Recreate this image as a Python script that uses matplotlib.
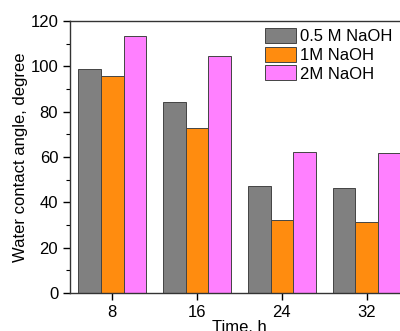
import matplotlib
matplotlib.use("Agg")
import matplotlib.pyplot as plt
import numpy as np
from matplotlib.ticker import MultipleLocator

plt.rcParams['font.family'] = ['Liberation Sans', 'DejaVu Sans']

times = [8, 16, 24, 32]
naoh_05 = [98.7, 84.3, 47.3, 46.2]
naoh_1 = [95.5, 72.7, 32.2, 31.2]
naoh_2 = [113.5, 104.5, 62.0, 61.7]
labels = ["0.5 M NaOH", "1M NaOH", "2M NaOH"]
colors = ["#808080", "#FF8C0F", "#FF80FF"]

fig = plt.figure(figsize=(4.0, 3.31), dpi=100)
ax = fig.add_axes([0.175, 0.115, 0.8475, 0.822])

x = np.array(times, dtype=float)
w = 2.14
for i, (vals, lab, c) in enumerate(zip([naoh_05, naoh_1, naoh_2], labels, colors)):
    ax.bar(x + (i - 1) * w, vals, width=w, color=c, edgecolor="#444444",
           linewidth=0.7, label=lab)

ax.set_xlim(4, 36)
ax.set_ylim(0, 120)
ax.set_xticks(times)
ax.yaxis.set_major_locator(MultipleLocator(20))
ax.yaxis.set_minor_locator(MultipleLocator(10))
ax.tick_params(axis='both', which='major', direction='out', length=5, width=1,
               labelsize=12, top=False, right=False)
ax.tick_params(axis='y', which='minor', direction='out', length=3, width=0.8)
for s in ax.spines.values():
    s.set_linewidth(1.0)
    s.set_color("#333333")

ax.set_ylabel("Water contact angle, degree", fontsize=12, labelpad=2)
ax.set_xlabel("Time, h", fontsize=12, labelpad=0)

ax.legend(loc="upper left", bbox_to_anchor=(0.655, 0.925),
          bbox_transform=fig.transFigure, frameon=False, fontsize=12,
          handlelength=1.85, handleheight=1.0, handletextpad=0.25,
          labelspacing=0.15, borderpad=0.2, borderaxespad=0)

fig.savefig("out.png", dpi=100)
